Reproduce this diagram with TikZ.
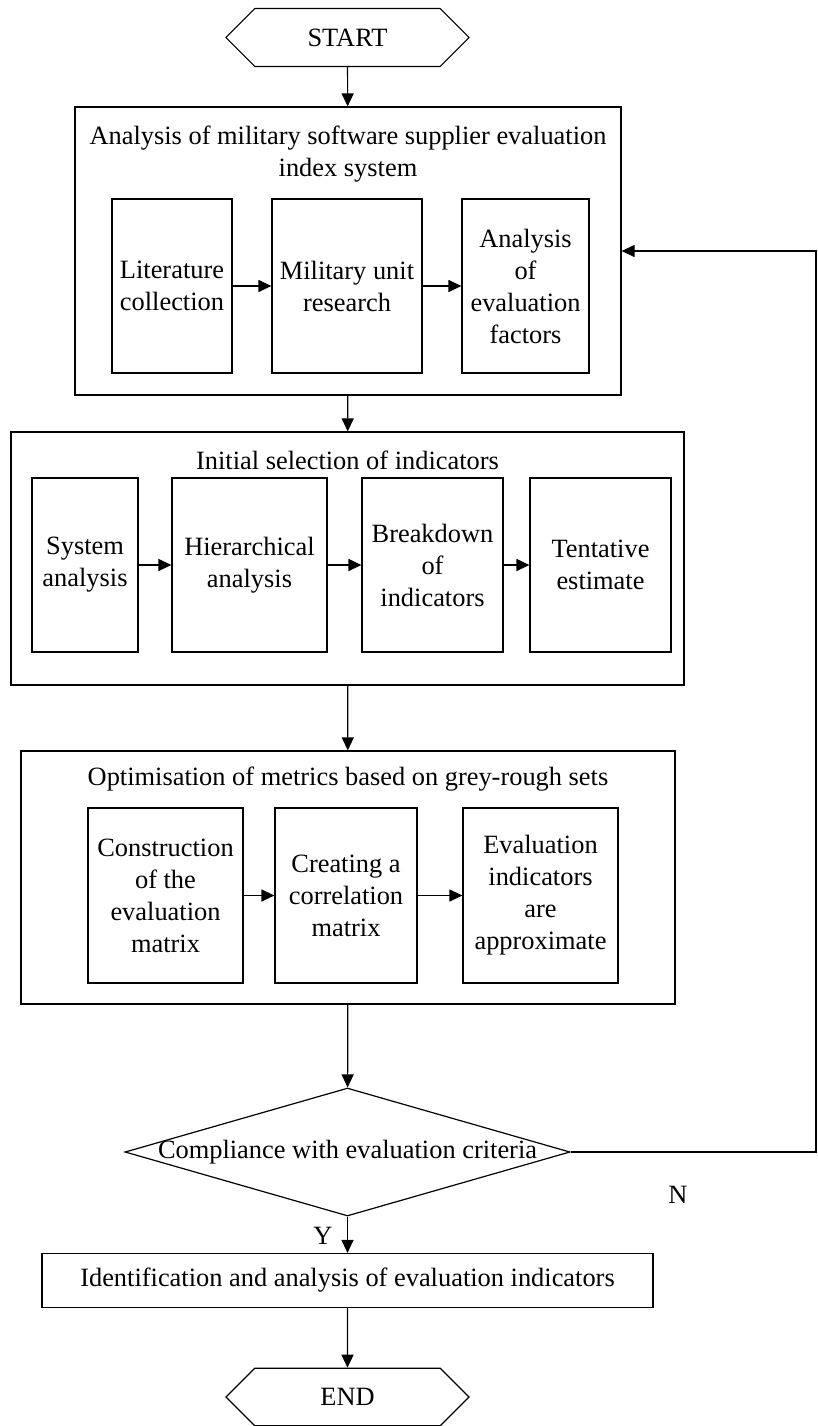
\documentclass[tikz,border=0pt]{standalone}
\usepackage{fontspec}
\setmainfont{Liberation Serif}
\usetikzlibrary{shapes.geometric,shapes.misc,arrows.meta,positioning}

\begin{document}
\begin{tikzpicture}[
    x=1pt, y=-1pt,
    line width=1.2pt,
    txt/.style={font=\fontsize{26.4}{32}\selectfont, align=center, inner sep=0pt},
    frame/.style={rectangle, draw, minimum width=#1, minimum height=253pt, inner sep=0pt},
    cell/.style={txt, rectangle, draw, minimum width=#1, minimum height=174pt},
    term/.style={txt, chamfered rectangle, chamfered rectangle xsep=24pt, chamfered rectangle ysep=27pt, inner ysep=-7pt, draw, minimum width=243pt, minimum height=58pt},
    arr/.style={-{Triangle[length=13pt,width=12pt]}}
]
\useasboundingbox (0,0) rectangle (817,1426);

\node[term] (start) at (347.5, 37.5) {START};

\node[frame=546pt, minimum height=288pt] (frameA) at (348, 251) {};
\node[txt] (titleA) at (348, 154) {Analysis of military software supplier evaluation\\index system};
\node[cell=120pt] (lit) at (172, 286) {Literature\\collection};
\node[cell=150pt] (mil) at (347, 286) {Military unit\\research};
\node[cell=127pt] (fac) at (525.5, 286) {Analysis\\of\\evaluation\\factors};

\node[frame=673pt] (frameB) at (347.5, 558.5) {};
\node[txt] (titleB) at (347.5, 460) {Initial selection of indicators};
\node[cell=106pt] (sys) at (85, 565) {System\\analysis};
\node[cell=155pt] (hier) at (249.5, 565) {Hierarchical\\analysis};
\node[cell=141pt] (brk) at (432.5, 565) {Breakdown\\of\\indicators};
\node[cell=141pt] (tent) at (600.5, 565) {Tentative\\estimate};

\node[frame=654pt] (frameC) at (348, 877.5) {};
\node[txt] (titleC) at (348, 779) {Optimisation of metrics based on grey-rough sets};
\node[cell=155pt, minimum height=175pt] (con) at (165.5, 895.5) {Construction\\of the\\evaluation\\matrix};
\node[cell=142pt, minimum height=175pt] (cre) at (346, 895.5) {Creating a\\correlation\\matrix};
\node[cell=155pt, minimum height=175pt] (evi) at (540.5, 895.5) {Evaluation\\indicators\\are\\approximate};

\node[txt, diamond, draw, aspect=3.48, inner xsep=-9pt, minimum width=445pt, minimum height=128pt] (dec) at (347.5, 1152) {Compliance with evaluation criteria};
\node[txt, rectangle, draw, minimum width=611pt, minimum height=54pt] (ident) at (347.5, 1280.5) {Identification and analysis of evaluation indicators};
\node[term, minimum height=57pt] (end) at (347.5, 1397) {END};

\node[txt] (ylab) at (323, 1236) {Y};
\node[txt] (nlab) at (678, 1195) {N};
\coordinate (back) at (816, 1152);

\draw[arr] (start) -- (frameA);
\draw[arr] (lit) -- (mil);
\draw[arr] (mil) -- (fac);
\draw[arr] (frameA) -- (frameB);
\draw[arr] (sys) -- (hier);
\draw[arr] (hier) -- (brk);
\draw[arr] (brk) -- (tent);
\draw[arr] (frameB) -- (frameC);
\draw[arr] (con) -- (cre);
\draw[arr] (cre) -- (evi);
\draw[arr] (frameC) -- (dec);
\draw[arr] (dec) -- (ident);
\draw[arr] (ident) -- (end);
\draw[arr] (dec.east) -- (back) |- (frameA.east);
\end{tikzpicture}
\end{document}
